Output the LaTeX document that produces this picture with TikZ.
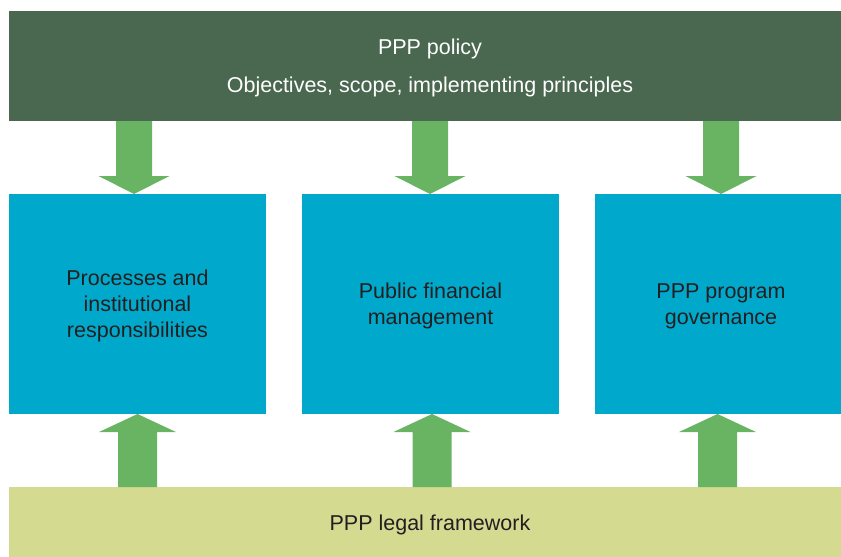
\documentclass[tikz,border=0pt]{standalone}
\usepackage{fontspec}
\setmainfont{Liberation Sans}
\usetikzlibrary{calc}
\definecolor{policyc}{HTML}{4A6850}
\definecolor{boxc}{HTML}{00A9CC}
\definecolor{arrowc}{HTML}{69B462}
\definecolor{legalc}{HTML}{D5DA91}
\definecolor{textc}{HTML}{231F20}
\newcommand\fatarrow[5]{%
  \coordinate (fa-b) at ($(#2)!#5!(#1)$);
  \fill[arrowfill]
    ($(#1)!#3!90:(#2)$) -- ($(fa-b)!#3!90:(#2)$) -- ($(fa-b)!#4!90:(#2)$) --
    (#2) --
    ($(fa-b)!#4!-90:(#2)$) -- ($(fa-b)!#3!-90:(#2)$) -- ($(#1)!#3!-90:(#2)$) -- cycle;
}
\begin{document}
\begin{tikzpicture}[x=1pt,y=-1pt,
  bar/.style={draw=none, rectangle, inner sep=0pt, outer sep=0pt},
  midbox/.style={draw=none, fill=boxc, rectangle, inner sep=0pt, outer sep=0pt,
    minimum height=220pt},
  boxtext/.style={text=textc, align=center, font=\fontsize{21.5}{26}\selectfont},
  arrowfill/.style={fill=arrowc}
]
\useasboundingbox (0,0) rectangle (841,557);
% bars
\node[bar, fill=policyc, minimum width=832pt, minimum height=110pt] (policy) at (425,66) {};
\node[text=white, align=center, font=\fontsize{21.5}{38}\selectfont] (policytxt) at (430,67.5)
  {PPP policy\\Objectives, scope, implementing principles};
\node[bar, fill=legalc, minimum width=832pt, minimum height=70pt] (legal) at (425,522) {};
\node[boxtext] (legaltxt) at (430,524.5) {PPP legal framework};
% boxes
\node[midbox, minimum width=257pt] (proc) at (137.5,304) {};
\node[midbox, minimum width=257pt] (pfm) at (430.5,304) {};
\node[midbox, minimum width=246pt] (gov) at (718,304) {};
\node[boxtext] (proctxt) at (137.5,306) {Processes and\\institutional\\responsibilities};
\node[boxtext] (pfmtxt) at (430.5,306) {Public financial\\management};
\node[boxtext] (govtxt) at (721,306) {PPP program\\governance};
% arrow anchors
\coordinate (d1s) at (134,121); \coordinate (d1e) at (134,194);
\coordinate (d2s) at (430,121); \coordinate (d2e) at (430,194);
\coordinate (d3s) at (721,121); \coordinate (d3e) at (721,194);
\coordinate (u1s) at (137.5,487); \coordinate (u1e) at (137.5,414);
\coordinate (u2s) at (432,487); \coordinate (u2e) at (432,414);
\coordinate (u3s) at (717.5,487); \coordinate (u3e) at (717.5,414);
\fatarrow{d1s}{d1e}{18pt}{35.5pt}{18pt}
\fatarrow{d2s}{d2e}{18pt}{35.5pt}{18pt}
\fatarrow{d3s}{d3e}{18pt}{35.5pt}{18pt}
\fatarrow{u1s}{u1e}{19.5pt}{38.5pt}{18pt}
\fatarrow{u2s}{u2e}{19.5pt}{38.5pt}{18pt}
\fatarrow{u3s}{u3e}{19.5pt}{38.5pt}{18pt}
\end{tikzpicture}
\end{document}
